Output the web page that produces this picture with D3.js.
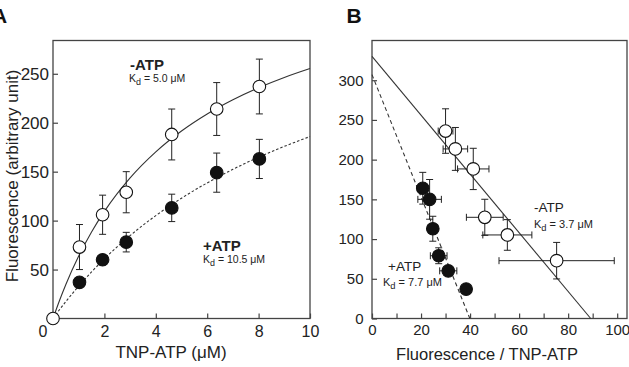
<!DOCTYPE html>
<html>
<head>
<meta charset="utf-8">
<script src="https://cdn.jsdelivr.net/npm/d3@7"></script>
<style>
  body { margin: 0; background: #fff; }
  svg { display: block; font-family: "Liberation Sans", Arial, sans-serif; }
</style>
</head>
<body>
<svg id="chart" width="629" height="367"></svg>
<script>
// ---- panel A: titration ----
var concA = [0, 1.03, 1.93, 2.85, 4.62, 6.37, 8.03];
var noAtpF = [0, 73, 106, 129, 188, 214, 237];
var noAtpErr = [0, 23, 20, 21, 26, 27, 28];
var plusConcA = [1.03, 1.93, 2.85, 4.62, 6.37, 8.03];
var plusAtpF = [37, 60, 78, 113, 149, 163];
var plusAtpErr = [0, 5, 10, 14, 20, 20];

// fitted hyperbolas
var fitX = [0, 0.25, 0.5, 1, 1.5, 2, 3, 4, 5, 6, 7, 8, 9, 10];
var fitNoAtp = [0, 18.2, 34.8, 63.8, 88.4, 109.4, 143.6, 170.2, 191.5, 208.9, 223.4, 235.7, 246.2, 255.3];
var fitPlusAtp = [0, 8.9, 17.3, 33.1, 47.6, 61.0, 84.7, 105.1, 122.9, 138.5, 152.4, 164.8, 175.8, 185.9];

var ticksAX = [2, 4, 6, 8, 10];
var ticksAY = [50, 100, 150, 200, 250];

// ---- panel B: Scatchard ----
var openBX = [30.0, 34.0, 41.3, 46.0, 55.2, 75.3];
var openBY = [236, 213.5, 188.3, 127.4, 105.2, 72.8];
var openBXErr = [3, 5, 6.4, 7.5, 10, 23.5];
var openBYErr = [28, 27, 26, 22.7, 19.3, 23];

var fillBX = [20.7, 23.5, 24.8, 27.2, 31.1, 38.4];
var fillBY = [164, 150, 113, 79, 60, 37];
var fillBXErr = [2, 4.8, 2, 3.4, 3.5, 0];
var fillBYErr = [20, 25, 15.7, 10, 5, 0];

var lineBNoX = [0, 89.2];
var lineBNoY = [330, 0];
var lineBPlusX = [0, 39.9];
var lineBPlusY = [307, 0];

var ticksBX = [0, 10, 20, 30, 40, 50, 60, 70, 80, 90, 100];
var ticksBY = [0, 50, 100, 150, 200, 250, 300];

var svg = d3.select('#chart');
var ink = '#222';
var plotTop = 40.5, plotBottom = 318.5;

var xA = d3.scaleLinear().domain([0, 10]).range([53, 310]);
var yA = d3.scaleLinear().domain([0, 284]).range([plotBottom, plotTop]);
var xB = d3.scaleLinear().domain([0, 104]).range([372, 627]);
var yB = d3.scaleLinear().domain([0, 350]).range([plotBottom, plotTop]);

function zip(xs, ys){
    return xs.map(function(v, i){ return [v, ys[i]]; });
}

function drawFrame(x, y){
    svg.append('rect')
        .attr('x', x.range()[0]).attr('y', plotTop)
        .attr('width', x.range()[1] - x.range()[0])
        .attr('height', plotBottom - plotTop)
        .attr('fill', 'none')
        .attr('stroke', '#444')
        .attr('stroke-width', 1.3);
}

function styleAxis(g, size){
    g.select('.domain').remove();
    g.selectAll('line').attr('stroke', '#444').attr('stroke-width', 1.2);
    g.selectAll('text').attr('fill', ink).style('font-size', size + 'px')
        .style('font-family', '"Liberation Sans", Arial, sans-serif');
}

function drawErrors(x, y, xs, ys, xe, ye){
    var g = svg.append('g').attr('stroke', ink).attr('stroke-width', 1).attr('fill', 'none');
    for(let i = 0; i < xs.length; i++){
        let cx = x(xs[i]), cy = y(ys[i]);
        if(ye && ye[i] > 0){
            let y1 = y(ys[i] + ye[i]), y2 = y(ys[i] - ye[i]);
            g.append('line').attr('x1', cx).attr('x2', cx).attr('y1', y1).attr('y2', y2);
            g.append('line').attr('x1', cx - 3.5).attr('x2', cx + 3.5).attr('y1', y1).attr('y2', y1);
            g.append('line').attr('x1', cx - 3.5).attr('x2', cx + 3.5).attr('y1', y2).attr('y2', y2);
        }
        if(xe && xe[i] > 0){
            let x1 = x(xs[i] - xe[i]), x2 = x(xs[i] + xe[i]);
            g.append('line').attr('x1', x1).attr('x2', x2).attr('y1', cy).attr('y2', cy);
            g.append('line').attr('x1', x1).attr('x2', x1).attr('y1', cy - 3.5).attr('y2', cy + 3.5);
            g.append('line').attr('x1', x2).attr('x2', x2).attr('y1', cy - 3.5).attr('y2', cy + 3.5);
        }
    }
}

function drawDots(x, y, xs, ys, filled){
    svg.append('g').selectAll('circle')
        .data(zip(xs, ys))
        .enter().append('circle')
        .attr('cx', function(d){ return x(d[0]); })
        .attr('cy', function(d){ return y(d[1]); })
        .attr('r', 6.3)
        .attr('fill', filled ? '#111' : '#fff')
        .attr('stroke', '#111')
        .attr('stroke-width', 1.1);
}

function drawLine(x, y, xs, ys, dash, curve){
    svg.append('path')
        .datum(zip(xs, ys))
        .attr('d', d3.line().x(function(d){ return x(d[0]); }).y(function(d){ return y(d[1]); }).curve(curve || d3.curveLinear))
        .attr('fill', 'none')
        .attr('stroke', '#333')
        .attr('stroke-width', 1.1)
        .attr('stroke-dasharray', dash);
}

function kdLabel(px, py, value, size){
    let t = svg.append('text').attr('x', px).attr('y', py)
        .attr('fill', ink).style('font-size', size + 'px');
    t.append('tspan').text('K');
    t.append('tspan').attr('dy', 2.5).style('font-size', (size * 0.85) + 'px').text('d');
    t.append('tspan').attr('dy', -2.5).text(' = ' + value + ' \u03bcM');
}

// ---------- panel A ----------
drawFrame(xA, yA);

var axAx = svg.append('g').attr('transform', 'translate(0,' + plotBottom + ')')
    .call(d3.axisBottom(xA).tickValues(ticksAX).tickSizeInner(-5).tickSizeOuter(0).tickPadding(7));
styleAxis(axAx, 16);
var axAy = svg.append('g').attr('transform', 'translate(' + xA(0) + ',0)')
    .call(d3.axisLeft(yA).tickValues(ticksAY).tickSizeInner(-5).tickSizeOuter(0).tickPadding(4));
styleAxis(axAy, 17);

svg.append('text').attr('x', xA(0) - 10).attr('y', 337).attr('text-anchor', 'middle')
    .attr('fill', ink).style('font-size', '16px').text('0');

svg.append('text').attr('x', 171).attr('y', 358).attr('text-anchor', 'middle')
    .attr('fill', ink).style('font-size', '17px').text('TNP-ATP (\u03bcM)');
svg.append('text').attr('transform', 'translate(18,' + 176 + ') rotate(-90)')
    .attr('text-anchor', 'middle').attr('fill', ink).style('font-size', '17px')
    .text('Fluorescence (arbitrary unit)');

drawLine(xA, yA, fitX, fitNoAtp, null, d3.curveMonotoneX);
drawLine(xA, yA, fitX, fitPlusAtp, '2.5,2', d3.curveMonotoneX);

drawErrors(xA, yA, plusConcA, plusAtpF, null, plusAtpErr);
drawErrors(xA, yA, concA, noAtpF, null, noAtpErr);
drawDots(xA, yA, plusConcA, plusAtpF, true);
drawDots(xA, yA, concA, noAtpF, false);

svg.append('text').attr('x', 130).attr('y', 70).attr('fill', ink)
    .style('font-size', '15px').style('font-weight', 'bold').text('-ATP');
kdLabel(129, 82, '5.0', 10.5);
svg.append('text').attr('x', 203).attr('y', 251).attr('fill', ink)
    .style('font-size', '15px').style('font-weight', 'bold').text('+ATP');
kdLabel(203, 263, '10.5', 10.5);

// ---------- panel B ----------
drawFrame(xB, yB);

var axBx = svg.append('g').attr('transform', 'translate(0,' + plotBottom + ')')
    .call(d3.axisBottom(xB).tickValues(ticksBX).tickSizeInner(-5).tickSizeOuter(0).tickPadding(5.5)
        .tickFormat(function(d){ return d % 20 === 0 ? d : ''; }));
styleAxis(axBx, 15);
var axBy = svg.append('g').attr('transform', 'translate(' + xB(0) + ',0)')
    .call(d3.axisLeft(yB).tickValues(ticksBY).tickSizeInner(-5).tickSizeOuter(0).tickPadding(8.5));
styleAxis(axBy, 15);

svg.append('text').attr('x', 487).attr('y', 360).attr('text-anchor', 'middle')
    .attr('fill', ink).style('font-size', '16.5px').text('Fluorescence / TNP-ATP');

drawLine(xB, yB, lineBNoX, lineBNoY, null);
drawLine(xB, yB, lineBPlusX, lineBPlusY, '4,3');

drawErrors(xB, yB, fillBX, fillBY, fillBXErr, fillBYErr);
drawErrors(xB, yB, openBX, openBY, openBXErr, openBYErr);
drawDots(xB, yB, fillBX, fillBY, true);
drawDots(xB, yB, openBX, openBY, false);

svg.append('text').attr('x', 534).attr('y', 212).attr('fill', ink)
    .style('font-size', '13.5px').text('-ATP');
kdLabel(534, 228, '3.7', 11);
svg.append('text').attr('x', 388).attr('y', 271).attr('fill', ink)
    .style('font-size', '13.5px').text('+ATP');
kdLabel(383, 286, '7.7', 11);

// panel letters
svg.append('text').attr('x', -8).attr('y', 23).attr('fill', '#111')
    .style('font-size', '21px').style('font-weight', 'bold').text('A');
svg.append('text').attr('x', 346.5).attr('y', 23).attr('fill', '#111')
    .style('font-size', '21px').style('font-weight', 'bold').text('B');
</script>
</body>
</html>
